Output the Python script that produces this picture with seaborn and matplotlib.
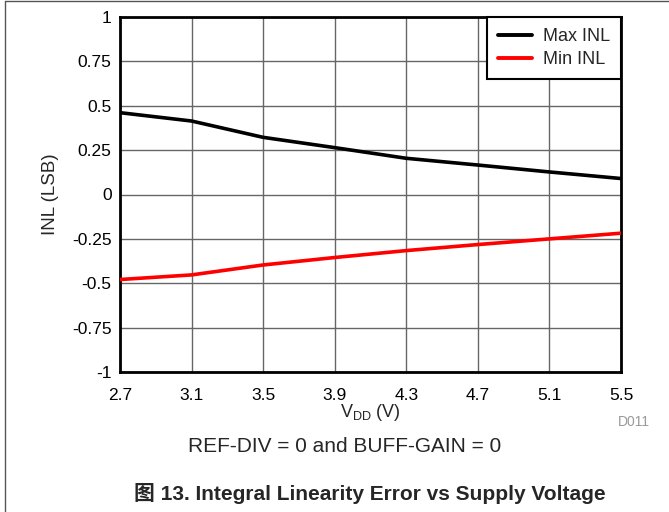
import numpy as np
import pandas as pd
import matplotlib
matplotlib.use('Agg')
import matplotlib.pyplot as plt
import seaborn as sns
from matplotlib.lines import Line2D

vdd = [2.7, 3.1, 3.5, 3.9, 4.3, 4.7, 5.1, 5.5]
max_inl = [0.461, 0.414, 0.322, 0.264, 0.204, 0.166, 0.127, 0.090]
min_inl = [-0.479, -0.453, -0.397, -0.355, -0.316, -0.282, -0.250, -0.218]
series = ['Max INL', 'Min INL']
xticks = [2.7, 3.1, 3.5, 3.9, 4.3, 4.7, 5.1, 5.5]
yticks = [-1, -0.75, -0.5, -0.25, 0, 0.25, 0.5, 0.75, 1]
ytick_labels = ['-1', '-0.75', '-0.5', '-0.25', '0', '0.25', '0.5', '0.75', '1']

df = pd.DataFrame({
    'VDD': vdd * 2,
    'INL': max_inl + min_inl,
    'series': [series[0]] * len(vdd) + [series[1]] * len(vdd),
})

sns.set_style('white')
plt.rcParams['font.family'] = ['Liberation Sans', 'Noto Sans CJK SC', 'DejaVu Sans']
plt.rcParams['mathtext.fontset'] = 'custom'
plt.rcParams['mathtext.rm'] = 'Liberation Sans'
plt.rcParams['mathtext.it'] = 'Liberation Sans:italic'

fig = plt.figure(figsize=(6.69, 5.12), dpi=100)
ax = fig.add_axes([120 / 669, 1 - 372 / 512, 501 / 669, 355 / 512])

sns.lineplot(data=df, x='VDD', y='INL', hue='series', palette=['black', 'red'],
             linewidth=2.6, ax=ax, legend=False, zorder=3)

ax.set_xlim(2.7, 5.5)
ax.set_ylim(-1, 1)
ax.set_xticks(xticks)
ax.set_xticklabels([f'{v:.1f}' for v in xticks])
ax.set_yticks(yticks)
ax.set_yticklabels(ytick_labels)
ax.tick_params(length=0, labelsize=12.5, colors='black')
ax.tick_params(axis='y', pad=6)
ax.tick_params(axis='x', pad=11.5)
ax.grid(True, color='#666666', linewidth=1.0)
for s in ax.spines.values():
    s.set_color('black')
    s.set_linewidth(2)
    s.set_visible(True)

ax.set_xlabel(r'V$_{\mathrm{DD}}$ (V)', fontsize=13)
ax.set_ylabel('INL (LSB)', fontsize=13.5)
ax.xaxis.set_label_coords((370 - 120) / 501, -(402 - 372) / 355)
ax.yaxis.set_label_coords(-(120 - 59) / 501, 0.5)

handles = [Line2D([], [], color=c, linewidth=2.8) for c in ['black', 'red']]
leg = ax.legend(handles, series, loc='upper right', fontsize=13, frameon=True,
                fancybox=False, borderaxespad=0, handlelength=1.9,
                borderpad=0.6, labelspacing=0.35, handletextpad=0.6)
leg.get_frame().set_edgecolor('black')
leg.get_frame().set_linewidth(1.5)
leg.get_frame().set_alpha(1)

fig.text(650 / 669, 1 - 422 / 512, 'D011', ha='right', va='center',
         fontsize=10, color='#999999')
fig.text(345 / 669, 1 - 446 / 512, 'REF-DIV = 0 and BUFF-GAIN = 0',
         ha='center', va='center', fontsize=15)
fig.text(370 / 669, 1 - 493 / 512, '图 13. Integral Linearity Error vs Supply Voltage',
         ha='center', va='center', fontsize=15, fontweight='bold')

# thin frame around the figure
fig.add_artist(Line2D([5 / 669, 5 / 669], [0, 1 - 1 / 512], color='#555555',
                      linewidth=1, transform=fig.transFigure))
fig.add_artist(Line2D([5 / 669, 1], [1 - 1 / 512, 1 - 1 / 512], color='#555555',
                      linewidth=1, transform=fig.transFigure))

fig.savefig('out.png', dpi=100)
